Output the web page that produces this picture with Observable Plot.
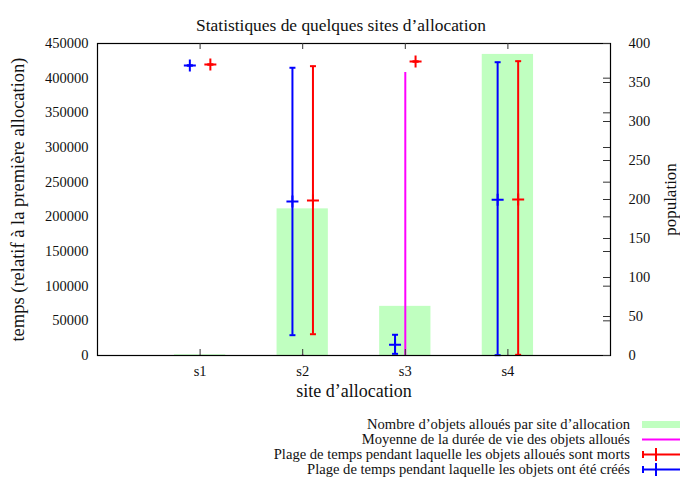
<!DOCTYPE html>
<html>
<head>
<meta charset="utf-8">
<script src="https://cdn.jsdelivr.net/npm/d3@7"></script>
<script src="https://cdn.jsdelivr.net/npm/@observablehq/plot@0.6"></script>
<style>
  html, body { margin: 0; padding: 0; background: white; }
  #wrap { position: relative; width: 680px; height: 480px; font-family: "Liberation Serif", serif; }
  #legend { position: absolute; left: 0; top: 417px; width: 680px; }
  .row { position: absolute; left: 0; width: 680px; height: 15px; }
  .row span { position: absolute; right: 50px; top: 0; font-size: 14.6px; line-height: 15px; white-space: nowrap; color: #111; }
  .row svg { position: absolute; left: 642px; top: 0; }
</style>
</head>
<body>
<div id="wrap"></div>
<script>
// ---- data ----
const sites = ["s1", "s2", "s3", "s4"];
const population = [1, 188, 63, 386];              // right axis
const meanLifetime = [300, 800, 408000, 300];      // magenta impulses
const creationMin = [418300, 29300, 2400, 500];
const creationMid = [418300, 222100, 15400, 224500];
const creationMax = [418300, 415000, 29900, 423000];
const deathMin = [419700, 30700, 424000, 1000];
const deathMid = [419700, 223600, 424000, 225000];
const deathMax = [419700, 417300, 424000, 424500];
const yTicks = [0, 50000, 100000, 150000, 200000, 250000, 300000, 350000, 400000, 450000];
const y2Ticks = [0, 50, 100, 150, 200, 250, 300, 350, 400];
const legendLabels = [
  "Nombre d’objets alloués par site d’allocation",
  "Moyenne de la durée de vie des objets alloués",
  "Plage de temps pendant laquelle les objets alloués sont morts",
  "Plage de temps pendant laquelle les objets ont été créés"
];

const k = 450000 / 400; // population -> time axis units
const rows = sites.map((s, i) => ({
  site: s, x: i + 1, pop: population[i] * k, mean: meanLifetime[i],
  cMin: creationMin[i], cMid: creationMid[i], cMax: creationMax[i],
  dMin: deathMin[i], dMid: deathMid[i], dMax: deathMax[i]
}));

const plus = { draw(ctx, size) { const r = Math.sqrt(size / Math.PI); ctx.moveTo(-r, 0); ctx.lineTo(r, 0); ctx.moveTo(0, -r); ctx.lineTo(0, r); } };
const cap = { draw(ctx, size) { const r = Math.sqrt(size / Math.PI); ctx.moveTo(-r, 0); ctx.lineTo(r, 0); } };

function errorbars(off, color, lo, mid, hi) {
  const xf = d => d.x + off;
  return [
    Plot.ruleX(rows, { x: xf, y1: lo, y2: hi, stroke: color, strokeWidth: 2 }),
    Plot.dot(rows, { x: xf, y: lo, symbol: cap, r: 3, fill: "none", stroke: color, strokeWidth: 2 }),
    Plot.dot(rows, { x: xf, y: hi, symbol: cap, r: 3, fill: "none", stroke: color, strokeWidth: 2 }),
    Plot.dot(rows, { x: xf, y: mid, symbol: plus, r: 6, fill: "none", stroke: color, strokeWidth: 2 })
  ];
}

const chart = Plot.plot({
  width: 680, height: 400,
  marginTop: 43, marginBottom: 45, marginLeft: 97, marginRight: 70,
  style: { fontFamily: "Liberation Serif, serif", fontSize: "14.5px", background: "white", color: "#111" },
  x: { domain: [0, 5] },
  y: { domain: [0, 450000] },
  marks: [
    Plot.rect(rows, { x1: d => d.x - 0.25, x2: d => d.x + 0.25, y1: 0, y2: "pop", fill: "#c0ffc0" }),
    Plot.ruleX(rows, { x: "x", y1: 0, y2: "mean", stroke: "#ff00ff", strokeWidth: 2 }),
    ...errorbars(-0.1, "#0000ff", "cMin", "cMid", "cMax"),
    ...errorbars(0.1, "#ff0000", "dMin", "dMid", "dMax"),
    Plot.frame({ stroke: "black", strokeWidth: 1.2 }),
    Plot.tickY(yTicks, { y: d => d, insetLeft: 506, stroke: "#333" }),
    Plot.tickY(y2Ticks, { y: d => d * k, insetLeft: 506, stroke: "#333" }),
    Plot.tickX([1, 2, 3, 4], { x: d => d, insetBottom: 306, stroke: "#333" }),
    Plot.tickX([1, 2, 3, 4], { x: d => d, insetTop: 306, stroke: "#333" }),
    Plot.axisY({ anchor: "left", ticks: yTicks, tickFormat: d => String(d), tickSize: 0, tickPadding: 9, label: null }),
    Plot.axisY({ anchor: "right", ticks: y2Ticks.map(v => v * k), tickFormat: d => String(Math.round(d / k)), tickSize: 0, tickPadding: 18, label: null }),
    Plot.axisX({ ticks: [1, 2, 3, 4], tickFormat: d => sites[d - 1], tickSize: 0, tickPadding: 10, label: null }),
    Plot.text(["Statistiques de quelques sites d’allocation"], { frameAnchor: "top", dy: -25, dx: -13, fontSize: 17.4, textAnchor: "middle" }),
    Plot.text(["temps (relatif à la première allocation)"], { frameAnchor: "left", dx: -79, rotate: -90, fontSize: 18.5, textAnchor: "middle" }),
    Plot.text(["population"], { frameAnchor: "right", dx: 60, rotate: -90, fontSize: 17, textAnchor: "middle" }),
    Plot.text(["site d’allocation"], { frameAnchor: "bottom", dy: 41, fontSize: 18, textAnchor: "middle" })
  ]
});

const wrap = document.getElementById("wrap");
wrap.appendChild(chart);

const legend = document.createElement("div");
legend.id = "legend";
const swatches = [
  `<rect x="0" y="4" width="38" height="7" fill="#c0ffc0"/>`,
  `<line x1="0" x2="38" y1="7.5" y2="7.5" stroke="#ff00ff" stroke-width="2"/>`,
  `<g stroke="#ff0000" stroke-width="2"><line x1="0" x2="38" y1="7.5" y2="7.5"/><line x1="1" x2="1" y1="4" y2="11"/><line x1="14" x2="14" y1="1" y2="14"/></g>`,
  `<g stroke="#0000ff" stroke-width="2"><line x1="0" x2="38" y1="7.5" y2="7.5"/><line x1="1" x2="1" y1="4" y2="11"/><line x1="14" x2="14" y1="1" y2="14"/></g>`
];
legendLabels.forEach((lab, i) => {
  const r = document.createElement("div");
  r.className = "row";
  r.style.top = (i * 15) + "px";
  r.innerHTML = `<span>${lab}</span><svg width="38" height="15">${swatches[i]}</svg>`;
  legend.appendChild(r);
});
wrap.appendChild(legend);
</script>
</body>
</html>
